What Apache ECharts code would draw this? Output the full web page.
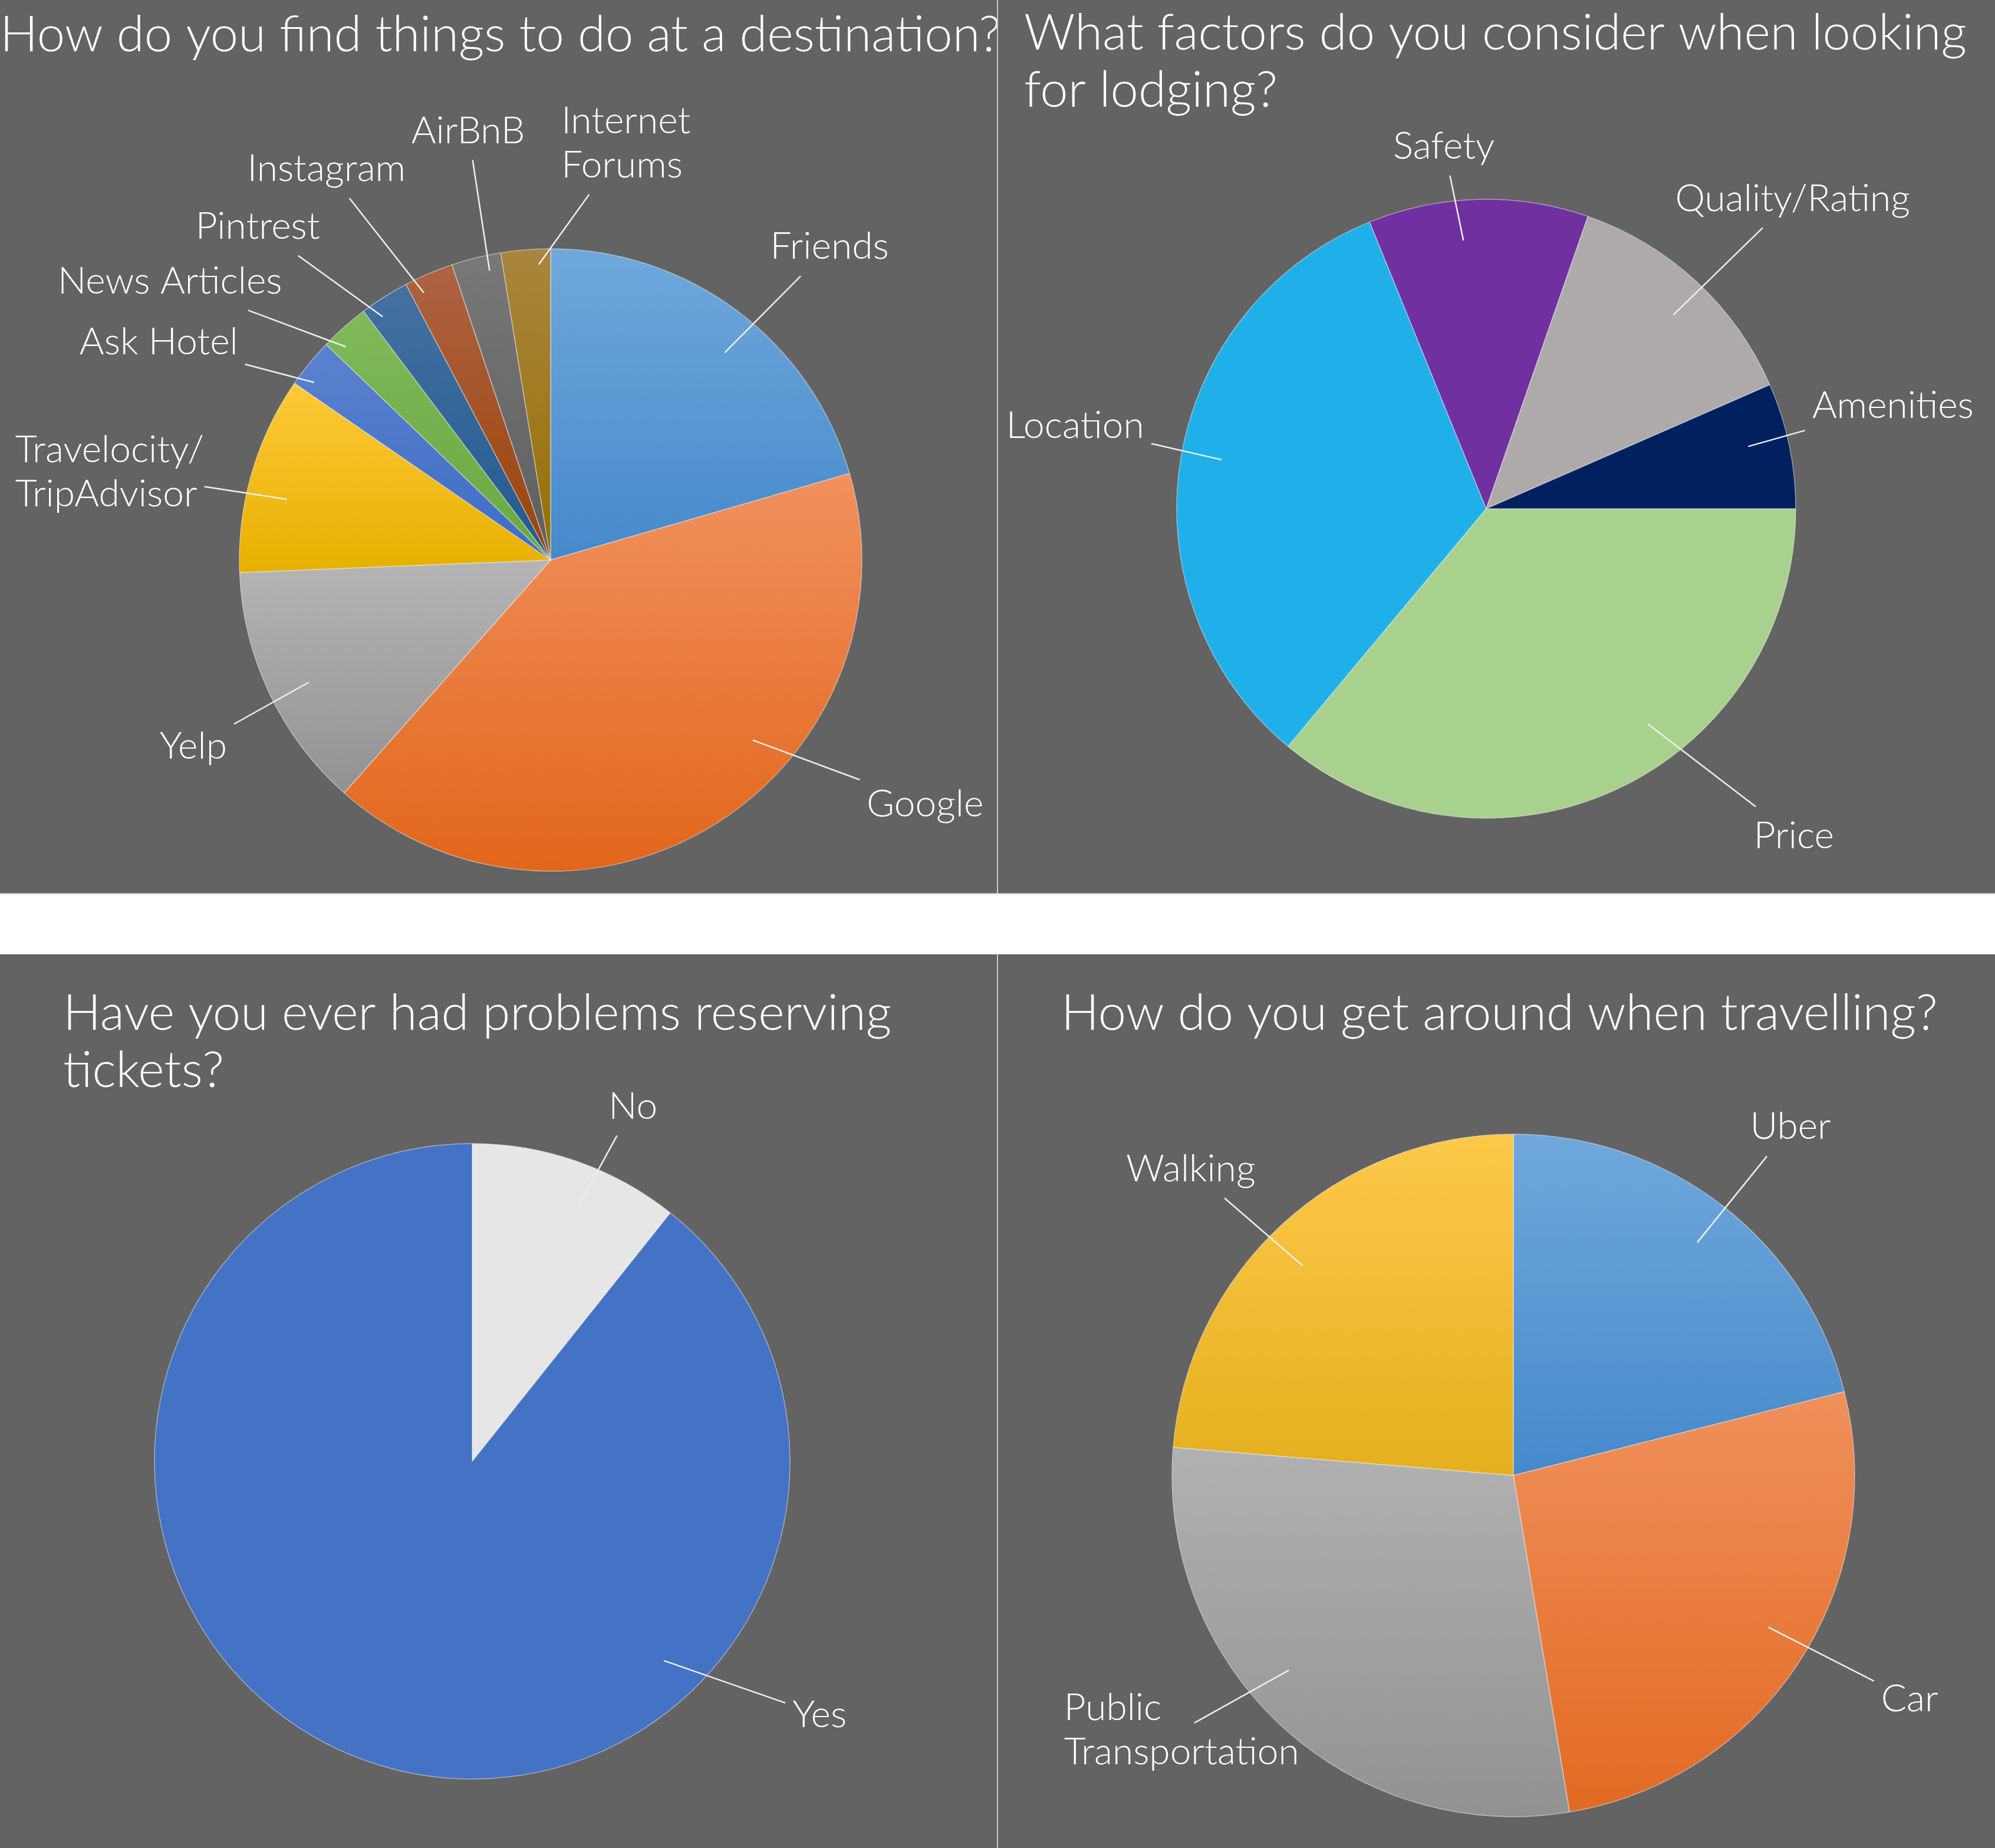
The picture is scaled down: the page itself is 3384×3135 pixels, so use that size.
<!DOCTYPE html>
<html>
<head>
<meta charset="utf-8" />
<title></title>
<script src="https://cdn.jsdelivr.net/npm/echarts@6/dist/echarts.min.js"></script>
<style>
*{
	padding: 0;
	margin: 0;
}
body{
	width: 3384px;
	height: 3135px;
	background: #fff;
	position: relative;
	overflow: hidden;
}
.edge{
	position: absolute;
	left: 0;
	width: 3384px;
	background: #c8c8c8;
}
.panel{
	position: absolute;
	width: 1691px;
	background: #636363;
}
</style>
</head>
<body>
<div class="edge" style="top:0;height:1517px;"></div>
<div class="edge" style="top:1619px;height:1516px;"></div>
<div id="find" class="panel" style="left:0;top:0;height:1515px;"></div>
<div id="lodge" class="panel" style="left:1693px;top:0;height:1515px;"></div>
<div id="ticket" class="panel" style="left:0;top:1619px;height:1516px;"></div>
<div id="move" class="panel" style="left:1693px;top:1619px;height:1516px;"></div>
<script type="text/javascript">

// survey answers (counts)
var findCats = ['Friends', 'Google', 'Yelp', 'Travelocity/\nTripAdvisor', 'Ask Hotel', 'News Articles', 'Pintrest', 'Instagram', 'AirBnB', 'Internet\nForums'];
var findVals = [8, 16, 5, 4, 1, 1, 1, 1, 1, 1];

var lodgeCats = ['Price', 'Location', 'Safety', 'Quality/Rating', 'Amenities'];
var lodgeVals = [22, 20, 7, 8, 4];

var ticketCats = ['No', 'Yes'];
var ticketVals = [3, 25];

var moveCats = ['Uber', 'Car', 'Public\nTransportation', 'Walking'];
var moveVals = [8, 10, 11, 9];

var FONT = 'Lato';
var WEIGHT = 300;
var LABEL_SIZE = 64, LABEL_LH = 75;

// office style gradients, top -> bottom
var findGrads = [['#70a8dc', '#4689cb'], ['#f1915f', '#e2661b'], ['#b5b5b5', '#929292'], ['#ffc93a', '#e6b000'],
	['#5a82cf', '#3f6cc4'], ['#80b95b', '#69a83e'], ['#4571a1', '#215a8f'], ['#ae6343', '#9a4309'],
	['#787878', '#5e5e5e'], ['#a9853f', '#967000']];
var moveGrads = [['#70a8dc', '#4689cb'], ['#f0905c', '#e26a22'], ['#b1b1b1', '#929292'], ['#fec84a', '#e4b01e']];
var lodgeCols = ['#a9d18e', '#1fb0ea', '#7030a0', '#aeaaaa', '#002060'];
var ticketCols = ['#e7e6e6', '#4472c4'];

function grad(pair) {
	return new echarts.graphic.LinearGradient(0, 0, 0, 1, [
		{offset: 0, color: pair[0]},
		{offset: 1, color: pair[1]}
	]);
}

var measure = document.createElement('canvas').getContext('2d');
function lineWidths(text) {
	measure.font = WEIGHT + ' ' + LABEL_SIZE + 'px ' + FONT;
	return text.split('\n').map(function (l) { return measure.measureText(l).width; });
}

// where a ray from (sx,sy) along (dx,dy) enters a box, or null
function enter(sx, sy, dx, dy, x0, y0, x1, y1) {
	var lo = -Infinity, hi = Infinity;
	var ax = [[sx, dx, x0, x1], [sy, dy, y0, y1]];
	for (var i = 0; i < 2; i++) {
		var p = ax[i][0], d = ax[i][1], a = ax[i][2], b = ax[i][3];
		if (Math.abs(d) < 1e-9) {
			if (p < a || p > b) return null;
		} else {
			var t1 = (a - p) / d, t2 = (b - p) / d;
			lo = Math.max(lo, Math.min(t1, t2));
			hi = Math.min(hi, Math.max(t1, t2));
		}
	}
	if (lo > hi || hi < 0) return null;
	return Math.max(lo, 0);
}

// label spot = offset from pie centre in radii; leader runs from inside the slice to the label text
function geom(o, i) {
	var total = o.vals.reduce(function (a, b) { return a + b; }, 0);
	var acc = 90 - o.start, b;
	for (var j = 0; j <= i; j++) {
		b = [acc, acc + o.vals[j] / total * 360];
		acc = b[1];
	}
	var left = (o.left || []).indexOf(i) >= 0;
	var s = o.spots[i];
	var lx = o.cx + s[0] * o.r, ly = o.cy + s[1] * o.r;
	var ws = lineWidths(o.cats[i]);
	var w = Math.max.apply(null, ws), h = ws.length * LABEL_LH;
	var span = b[1] - b[0], mid = (b[0] + b[1]) / 2;
	var la = Math.atan2(s[0], -s[1]) * 180 / Math.PI;
	while (la < mid - 180) la += 360;
	while (la > mid + 180) la -= 360;
	var a = la + Math.max(-10, Math.min(10, 0.35 * (mid - la)));
	a = Math.min(Math.max(a, b[0] + span * 0.25), b[1] - span * 0.25);
	var k = span < 20 ? 0.95 : 0.87;
	var rad = a * Math.PI / 180;
	var sx = o.cx + k * o.r * Math.sin(rad), sy = o.cy - k * o.r * Math.cos(rad);
	var gap = 12;
	var dx = lx - sx, dy = ly - sy;
	var top = ly - h / 2, t = null;
	ws.forEach(function (lw, n) {
		var x0 = left ? lx - w / 2 : lx - lw / 2;
		var y0 = top + n * LABEL_LH;
		var e = enter(sx, sy, dx, dy, x0 - gap, y0 - gap, x0 + lw + gap, y0 + LABEL_LH + gap);
		if (e !== null && (t === null || e < t)) t = e;
	});
	if (t === null || t > 1) t = 1;
	return {lx: lx, ly: ly, w: w, h: h, sx: sx, sy: sy, ex: sx + t * dx, ey: sy + t * dy, left: left};
}

function pieChart(id, o) {
	var chart = echarts.init(document.getElementById(id));
	chart.setOption({
		animation: false,
		backgroundColor: 'transparent',
		title: {
			text: o.title,
			left: o.titleLeft,
			top: o.titleTop,
			padding: 0,
			textStyle: {
				color: '#fff',
				fontFamily: FONT,
				fontWeight: WEIGHT,
				fontSize: 85,
				lineHeight: 97
			}
		},
		series: [{
			type: 'pie',
			z: 2,
			center: [o.cx, o.cy],
			radius: o.r,
			startAngle: o.start,
			clockwise: true,
			avoidLabelOverlap: false,
			emphasis: {disabled: true},
			itemStyle: {
				borderColor: 'rgba(255,255,255,0.45)',
				borderWidth: 1.5
			},
			label: {
				show: true,
				position: 'outside',
				color: '#fff',
				fontFamily: FONT,
				fontWeight: WEIGHT,
				fontSize: LABEL_SIZE,
				lineHeight: LABEL_LH
			},
			labelLine: {show: false},
			labelLayout: function (params) {
				var g = geom(o, params.dataIndex);
				return {
					x: g.left ? g.lx - g.w / 2 : g.lx,
					y: g.ly,
					align: g.left ? 'left' : 'center',
					verticalAlign: 'middle'
				};
			},
			data: o.cats.map(function (c, i) {
				return {name: c, value: o.vals[i], itemStyle: {color: o.fill(i)}};
			})
		}, {
			// leader lines, drawn over the slices
			type: 'custom',
			coordinateSystem: 'none',
			silent: true,
			z: 10,
			data: o.vals,
			renderItem: function (params) {
				var g = geom(o, params.dataIndex);
				return {
					type: 'line',
					shape: {x1: g.sx, y1: g.sy, x2: g.ex, y2: g.ey},
					style: {stroke: '#eeeeee', lineWidth: 2.5}
				};
			}
		}]
	});
	return chart;
}

pieChart('find', {
	title: 'How do you find things to do at a destination?',
	titleLeft: 0, titleTop: 11,
	cx: 934, cy: 950, r: 528, start: 90,
	cats: findCats, vals: findVals,
	fill: function (i) { return grad(findGrads[i]); },
	spots: [[0.896, -1.006], [1.203, 0.784], [-1.148, 0.600], [-1.417, -0.282], [-1.259, -0.701],
		[-1.223, -0.896], [-0.941, -1.072], [-0.720, -1.256], [-0.265, -1.379], [0.242, -1.339]],
	left: [3, 9]
});

pieChart('lodge', {
	title: 'What factors do you consider when looking\nfor lodging?',
	titleLeft: 44, titleTop: 8,
	cx: 828, cy: 863, r: 525, start: 0,
	cats: lodgeCats, vals: lodgeVals,
	fill: function (i) { return lodgeCols[i]; },
	spots: [[0.994, 1.057], [-1.328, -0.267], [-0.137, -1.171], [0.990, -1.002], [1.314, -0.333]]
});

pieChart('ticket', {
	title: 'Have you ever had problems reserving\ntickets?',
	titleLeft: 107, titleTop: 52,
	cx: 801, cy: 860, r: 539, start: 90,
	cats: ticketCats, vals: ticketVals,
	fill: function (i) { return ticketCols[i]; },
	spots: [[0.506, -1.117], [1.093, 0.798]]
});

pieChart('move', {
	title: 'How do you get around when travelling?',
	titleLeft: 107, titleTop: 52,
	cx: 874, cy: 884, r: 579, start: 90,
	cats: moveCats, vals: moveVals,
	fill: function (i) { return grad(moveGrads[i]); },
	spots: [[0.812, -1.021], [1.161, 0.656], [-0.972, 0.746], [-0.945, -0.898]],
	left: [2]
});

</script>
</body>
</html>
